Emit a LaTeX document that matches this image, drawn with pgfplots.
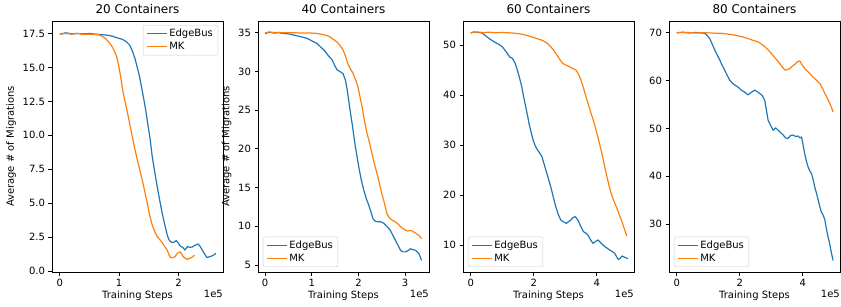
\documentclass[border=0pt]{standalone}
\usepackage{fontspec}
\setmainfont{DejaVu Sans}
\usepackage{pgfplots}
\pgfplotsset{compat=1.18}
\definecolor{tabblue}{HTML}{1F77B4}
\definecolor{taborange}{HTML}{FF7F0E}
\pgfplotsset{
  panel/.style={
    scale only axis, width=171pt, height=251pt,
    font=\fontsize{10}{12}\selectfont,
    /pgf/number format/assume math mode=true,
    tick align=outside, tick pos=left,
    major tick length=3.5pt,
    every tick/.style={black, line width=0.8pt},
    axis line style={line width=0.8pt},
    scaled ticks=false,
    title style={font=\fontsize{12}{14}\selectfont, yshift=-2pt},
    xlabel={Training Steps},
    xlabel style={yshift=3pt},
    legend style={font=\fontsize{10}{13}\selectfont, draw=white!80!black, rounded corners=2pt, fill=white, inner xsep=3pt, inner ysep=2pt, cells={anchor=west}},
    legend cell align=left,
    legend image code/.code={\draw[#1] (0pt,0pt) -- (20pt,0pt);},
    every axis plot/.append style={line width=1.2pt, no markers, line join=round},
    extra description/.code={\node[anchor=north east, inner sep=0pt, yshift=-18pt, font=\fontsize{10}{12}\selectfont] at (1,0) {1e5};},
  },
}
\begin{document}
\begin{tikzpicture}
\path[use as bounding box] (-52pt,-34pt) rectangle (789pt,272pt);
% Panel 1
\begin{axis}[panel, at={(0pt,0pt)}, anchor=south west,
  title={20 Containers}, ylabel={Average \# of Migrations},
  xmin=-0.131, xmax=2.75, ymin=-0.07, ymax=18.42,
  xtick={0,1,2}, ytick={0,2.5,...,17.5},
  yticklabel style={/pgf/number format/.cd, fixed, fixed zerofill, precision=1},
  legend style={at={(0.971,0.984)}, anchor=north east}]
\addplot[tabblue] coordinates {(0,17.45)(0.1,17.55)(0.2,17.48)(0.3,17.5)(0.4,17.47)(0.5,17.5)(0.6,17.45)(0.7,17.42)(0.8,17.38)(0.886,17.3)(0.95,17.2)(1.055,17.07)(1.12,16.9)(1.177,16.65)(1.22,16.25)(1.266,15.67)(1.3,15.1)(1.345,14.3)(1.38,13.5)(1.418,12.6)(1.45,11.8)(1.49,10.63)(1.52,9.8)(1.558,8.42)(1.6,7.3)(1.642,6.21)(1.68,5.3)(1.726,4.25)(1.77,3.4)(1.81,2.65)(1.84,2.3)(1.866,2.16)(1.91,2.1)(1.96,2.24)(2.0,2.05)(2.03,1.84)(2.07,1.75)(2.11,1.55)(2.15,1.8)(2.19,1.75)(2.23,1.77)(2.28,1.9)(2.33,2.0)(2.36,1.85)(2.4,1.55)(2.44,1.25)(2.48,1.0)(2.52,1.05)(2.555,1.1)(2.6,1.2)(2.63,1.3)};
\addlegendentry{EdgeBus}
\addplot[taborange] coordinates {(0,17.45)(0.1,17.5)(0.2,17.45)(0.3,17.5)(0.4,17.43)(0.5,17.45)(0.6,17.42)(0.66,17.4)(0.72,17.28)(0.77,17.13)(0.83,16.85)(0.886,16.5)(0.92,16.2)(0.958,15.8)(0.99,15.2)(1.026,14.3)(1.05,13.6)(1.081,12.85)(1.12,12.1)(1.154,11.37)(1.19,10.6)(1.222,9.9)(1.26,9.1)(1.306,8.18)(1.35,7.4)(1.39,6.7)(1.43,5.9)(1.474,4.99)(1.51,4.2)(1.558,3.39)(1.6,2.9)(1.642,2.53)(1.68,2.35)(1.726,2.09)(1.77,1.8)(1.81,1.55)(1.84,1.2)(1.866,1.0)(1.9,0.98)(1.94,1.05)(1.98,1.3)(2.02,1.42)(2.05,1.3)(2.073,1.1)(2.11,0.95)(2.146,0.86)(2.18,0.92)(2.22,1.0)(2.25,1.1)(2.275,1.15)};
\addlegendentry{MK}
\end{axis}
% Panel 2
\begin{axis}[panel, at={(206pt,0pt)}, anchor=south west,
  title={40 Containers}, ylabel={Average \# of Migrations},
  xmin=-0.15, xmax=3.51, ymin=4.1, ymax=36.51,
  xtick={0,1,2,3}, ytick={5,10,...,35},
  legend style={at={(0.029,0.02)}, anchor=south west}]
\addplot[tabblue] coordinates {(0,34.9)(0.1,35.05)(0.2,34.95)(0.3,35.0)(0.4,34.9)(0.5,34.85)(0.614,34.7)(0.75,34.5)(0.9,34.27)(1.0,33.95)(1.113,33.6)(1.2,33.1)(1.29,32.57)(1.36,32.0)(1.435,31.5)(1.49,30.8)(1.542,30.2)(1.6,30.0)(1.67,29.7)(1.72,28.9)(1.76,27.6)(1.79,26.3)(1.83,24.6)(1.864,23.3)(1.9,21.7)(1.934,20.3)(1.97,19.0)(2.006,17.7)(2.06,16.0)(2.113,14.7)(2.16,13.7)(2.22,12.75)(2.27,11.8)(2.31,11.0)(2.35,10.7)(2.398,10.6)(2.47,10.6)(2.54,10.4)(2.61,10.0)(2.68,9.5)(2.74,8.8)(2.79,8.2)(2.85,7.5)(2.9,6.9)(2.95,6.7)(3.0,6.7)(3.06,6.85)(3.11,7.1)(3.16,7.0)(3.22,6.9)(3.29,6.5)(3.32,6.1)(3.35,5.6)};
\addlegendentry{EdgeBus}
\addplot[taborange] coordinates {(0,35)(0.1,35.1)(0.2,35.0)(0.3,35.05)(0.4,34.98)(0.6,35.0)(0.8,34.95)(1.0,34.95)(1.113,34.9)(1.25,34.75)(1.364,34.56)(1.45,34.2)(1.542,33.8)(1.61,33.3)(1.67,32.8)(1.72,32.0)(1.77,31.05)(1.83,30.3)(1.884,29.76)(1.94,28.9)(1.99,28.0)(2.03,26.8)(2.077,25.45)(2.13,23.6)(2.184,22.0)(2.24,20.7)(2.29,19.4)(2.34,18.1)(2.398,16.8)(2.45,15.5)(2.5,14.2)(2.56,12.9)(2.61,11.6)(2.66,11.1)(2.72,10.8)(2.78,10.6)(2.83,10.4)(2.88,10.1)(2.93,9.8)(2.98,9.6)(3.04,9.4)(3.1,9.45)(3.15,9.4)(3.2,9.2)(3.25,9.0)(3.3,8.8)(3.35,8.4)};
\addlegendentry{MK}
\end{axis}
% Panel 3
\begin{axis}[panel, at={(411pt,0pt)}, anchor=south west,
  title={60 Containers},
  xmin=-0.246, xmax=5.185, ymin=4.6, ymax=54.8,
  xtick={0,2,4}, ytick={10,20,...,50},
  legend style={at={(0.029,0.02)}, anchor=south west}]
\addplot[tabblue] coordinates {(0,52.4)(0.1,52.6)(0.2,52.55)(0.36,52.4)(0.46,51.9)(0.574,51.33)(0.68,50.9)(0.79,50.47)(0.9,50.1)(1.0,49.67)(1.08,49.0)(1.16,48.33)(1.24,47.6)(1.32,47.33)(1.4,46.5)(1.48,45.0)(1.55,43.4)(1.62,41.67)(1.68,39.6)(1.745,37.67)(1.8,36.0)(1.85,34.33)(1.92,32.5)(1.98,31.0)(2.05,29.8)(2.12,29.0)(2.19,28.4)(2.26,27.67)(2.32,26.4)(2.385,25.0)(2.46,23.4)(2.54,21.67)(2.62,19.6)(2.7,17.67)(2.78,16.1)(2.86,15.0)(2.95,14.6)(3.04,14.33)(3.11,14.7)(3.18,15.0)(3.25,15.5)(3.32,15.67)(3.39,15.1)(3.45,14.33)(3.52,13.4)(3.58,12.67)(3.65,12.4)(3.72,12.0)(3.8,11.1)(3.88,10.33)(3.96,10.7)(4.04,11.0)(4.12,10.5)(4.2,10.0)(4.3,9.5)(4.41,9.0)(4.49,8.7)(4.57,8.33)(4.63,7.7)(4.68,7.13)(4.74,7.3)(4.81,7.8)(4.9,7.5)(4.99,7.27)};
\addlegendentry{EdgeBus}
\addplot[taborange] coordinates {(0,52.5)(0.2,52.6)(0.4,52.5)(0.6,52.55)(0.8,52.45)(1.0,52.5)(1.32,52.4)(1.6,52.2)(1.85,51.8)(2.05,51.4)(2.28,50.9)(2.42,50.4)(2.54,49.67)(2.65,48.8)(2.76,47.8)(2.84,47.0)(2.92,46.33)(3.02,46.0)(3.13,45.67)(3.24,45.3)(3.34,45.0)(3.42,44.2)(3.5,43.0)(3.58,41.4)(3.66,39.67)(3.74,38.0)(3.82,36.33)(3.9,34.8)(3.98,33.0)(4.06,31.0)(4.14,29.0)(4.22,26.7)(4.3,24.33)(4.38,22.2)(4.46,20.33)(4.54,18.9)(4.62,17.67)(4.7,16.4)(4.78,15.0)(4.84,14.0)(4.89,13.0)(4.93,12.3)(4.96,11.8)};
\addlegendentry{MK}
\end{axis}
% Panel 4
\begin{axis}[panel, at={(617pt,0pt)}, anchor=south west,
  title={80 Containers},
  xmin=-0.245, xmax=5.18, ymin=19.97, ymax=72.45,
  xtick={0,2,4}, ytick={30,40,...,70},
  legend style={at={(0.029,0.02)}, anchor=south west}]
\addplot[tabblue] coordinates {(0,70)(0.2,70.1)(0.4,69.95)(0.6,70.05)(0.8,69.95)(0.888,69.87)(0.97,69.4)(1.046,68.8)(1.12,67.7)(1.205,66.4)(1.29,65.3)(1.365,64.3)(1.44,63.2)(1.52,62.2)(1.6,61.1)(1.68,60.1)(1.76,59.5)(1.84,59.06)(1.95,58.6)(2.05,58.0)(2.15,57.6)(2.26,57.0)(2.36,57.5)(2.47,58.0)(2.55,57.7)(2.63,57.3)(2.71,56.9)(2.79,55.9)(2.84,54.0)(2.9,51.7)(2.98,50.6)(3.06,49.6)(3.14,50.1)(3.22,49.6)(3.3,49.1)(3.38,48.6)(3.45,48.0)(3.53,47.9)(3.61,48.5)(3.69,48.6)(3.77,48.3)(3.85,48.4)(3.91,48.0)(3.96,48.2)(4.01,46.5)(4.06,44.7)(4.12,43.0)(4.17,41.9)(4.23,41.0)(4.28,40.5)(4.33,39.2)(4.38,37.7)(4.44,36.3)(4.49,34.95)(4.54,33.6)(4.59,32.5)(4.65,31.8)(4.7,30.8)(4.75,29.0)(4.8,27.3)(4.85,26.0)(4.89,24.5)(4.93,23.3)(4.96,22.4)};
\addlegendentry{EdgeBus}
\addplot[taborange] coordinates {(0,70)(0.3,70.05)(0.6,69.95)(0.9,70.0)(1.2,69.9)(1.42,69.87)(1.63,69.7)(1.84,69.5)(2.05,69.2)(2.26,68.8)(2.42,68.4)(2.58,68.1)(2.69,67.6)(2.79,67.1)(2.9,66.4)(3.0,65.7)(3.11,64.8)(3.22,63.95)(3.33,63.0)(3.43,62.2)(3.51,62.3)(3.59,62.5)(3.67,63.0)(3.75,63.4)(3.83,63.9)(3.9,64.1)(3.98,63.3)(4.06,62.5)(4.14,62.0)(4.22,61.5)(4.3,60.9)(4.38,60.4)(4.46,59.9)(4.54,59.4)(4.62,58.4)(4.7,57.3)(4.78,56.3)(4.86,55.2)(4.92,54.2)(4.96,53.4)};
\addlegendentry{MK}
\end{axis}
\end{tikzpicture}
\end{document}
